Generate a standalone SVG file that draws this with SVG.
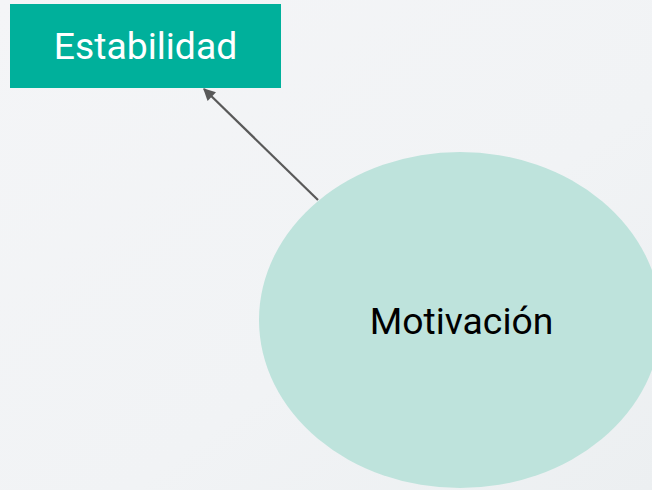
<svg xmlns="http://www.w3.org/2000/svg" width="652" height="490" viewBox="0 0 652 490">
<defs>
<linearGradient id="bg" x1="0" y1="0" x2="1" y2="1">
<stop offset="0" stop-color="#f4f5f7"/>
<stop offset="0.6" stop-color="#f1f3f5"/>
<stop offset="1" stop-color="#eceff1"/>
</linearGradient>
<marker id="arr" viewBox="0 0 10 10" refX="9" refY="5" markerWidth="6" markerHeight="5.5" orient="auto" markerUnits="strokeWidth">
<path d="M0,0 L10,5 L0,10 z" fill="#595959"/>
</marker>
<style>
.lbl{font-family:Roboto,"Liberation Sans",sans-serif;text-anchor:middle}
</style>
</defs>
<rect width="652" height="490" fill="url(#bg)"/>
<g id="connectors">
<line x1="318" y1="200" x2="204" y2="89" stroke="#595959" stroke-width="2.2" marker-end="url(#arr)"/>
</g>
<g id="estabilidad">
<rect x="10" y="4" width="271" height="84" fill="#00b09b"/>
<text class="lbl" x="145.5" y="59" font-size="37.3" fill="#ffffff">Estabilidad</text>
</g>
<g id="motivacion">
<ellipse cx="460" cy="320" rx="201" ry="168" fill="#bee3dc"/>
<text class="lbl" x="461.5" y="333.5" font-size="37.3" fill="#000000">Motivación</text>
</g>
</svg>
